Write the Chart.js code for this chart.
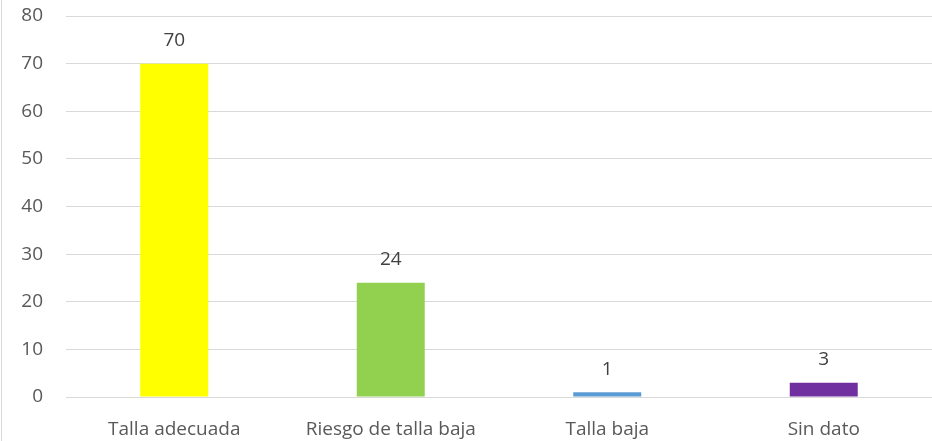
<html>
<head>
  <title>Talla</title>
  <script src="https://cdn.jsdelivr.net/npm/chart.js"></script>
  <style>
    body { margin: 0; background: #fff; }
    #wrap {
      position: relative;
      width: 932px;
      height: 441px;
    }
    /* linea gris del marco a la izquierda */
    #wrap::before {
      content: "";
      position: absolute;
      left: 1px;
      top: 0;
      width: 1px;
      height: 441px;
      background: #d9d9d9;
    }
  </style>
</head>
<body>
  <div id="wrap">
    <canvas id="barChart" width="932" height="441"></canvas>
  </div>
  <script>
    const categorias = ['Talla adecuada', 'Riesgo de talla baja', 'Talla baja', 'Sin dato'];
    const valores = [70, 24, 1, 3];
    const colores = ['#FFFF00', '#92D050', '#5B9BD5', '#7030A0'];
    const yMin = 0;
    const yMax = 80;
    const yPaso = 10;

    const fuente = '"Open Sans", Lato, sans-serif';

    // etiquetas de valor encima de cada barra
    const etiquetasValor = {
      id: 'etiquetasValor',
      afterDatasetsDraw(chart) {
        const ctx = chart.ctx;
        const meta = chart.getDatasetMeta(0);
        ctx.save();
        ctx.font = '19px ' + fuente;
        ctx.fillStyle = '#404040';
        ctx.textAlign = 'center';
        ctx.textBaseline = 'middle';
        meta.data.forEach((bar, i) => {
          ctx.fillText(String(valores[i]), bar.x, bar.y - 23);
        });
        ctx.restore();
      }
    };

    new Chart(document.getElementById('barChart').getContext('2d'), {
      type: 'bar',
      data: {
        labels: categorias,
        datasets: [{
          data: valores,
          backgroundColor: colores,
          borderWidth: 0,
          categoryPercentage: 1,
          barPercentage: 0.314
        }]
      },
      options: {
        responsive: false,
        animation: false,
        layout: { padding: 0 },
        scales: {
          x: {
            afterFit(scale) { scale.height = 44; },
            grid: { display: false, drawTicks: false },
            border: { display: false },
            ticks: {
              color: '#595959',
              font: { family: fuente, size: 19 },
              padding: 21,
              maxRotation: 0
            }
          },
          y: {
            min: yMin,
            max: yMax,
            afterFit(scale) {
              scale.width = 66;
              scale.paddingTop = 16;
              scale.paddingBottom = 0;
            },
            grid: { color: '#d9d9d9', lineWidth: 1, drawTicks: false },
            border: { display: false },
            ticks: {
              stepSize: yPaso,
              color: '#595959',
              font: { family: fuente, size: 19 },
              padding: 23
            }
          }
        },
        plugins: {
          legend: { display: false },
          tooltip: { enabled: false }
        }
      },
      plugins: [etiquetasValor]
    });
  </script>
</body>
</html>
